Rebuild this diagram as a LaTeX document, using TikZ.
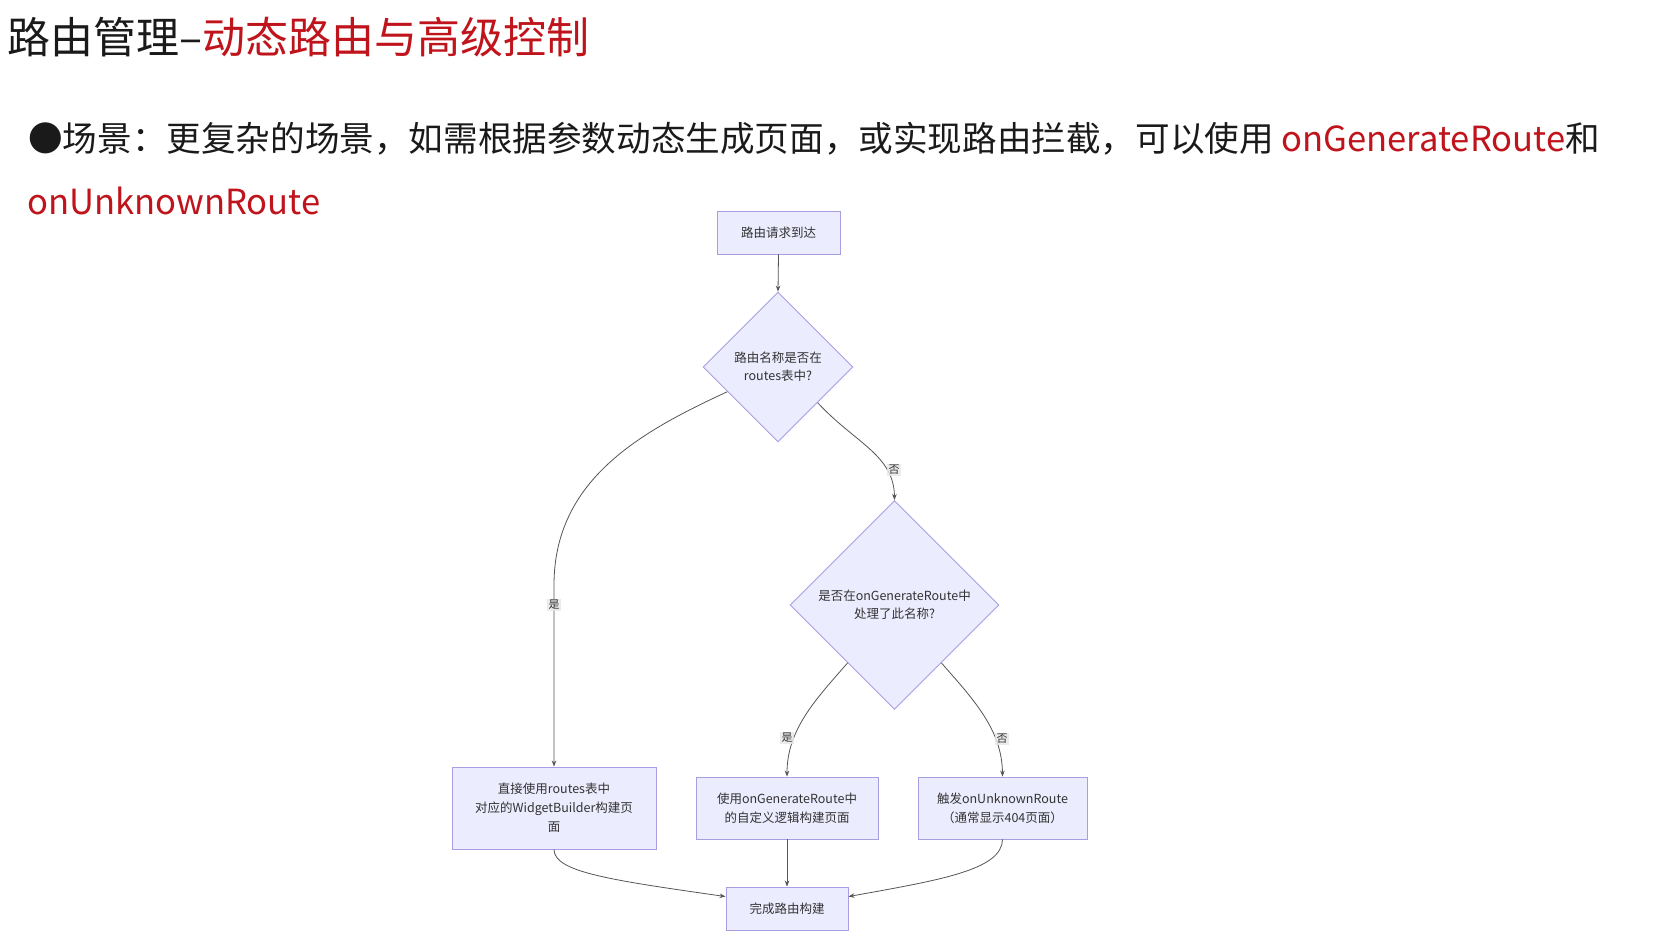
\documentclass[tikz,border=0pt]{standalone}
\usepackage{fontspec}
\setmainfont{Noto Sans CJK SC}
\usetikzlibrary{shapes.geometric,arrows.meta}
\definecolor{nodefill}{HTML}{ECECFF}
\definecolor{nodedraw}{HTML}{A99EE2}
\definecolor{redtxt}{HTML}{C0141C}
\definecolor{txt}{HTML}{333333}
\definecolor{titletxt}{HTML}{1A1A1A}
\definecolor{linec}{HTML}{555555}
\definecolor{lblfill}{HTML}{E8E8E8}
\begin{document}
\begin{tikzpicture}[x=1pt,y=-1pt,
  box/.style={draw=nodedraw,fill=nodefill,line width=0.9pt,text=txt,font=\fontsize{12.5}{19}\selectfont,align=center,inner sep=0pt},
  dia/.style={diamond,aspect=1,draw=nodedraw,fill=nodefill,line width=0.9pt,text=txt,font=\fontsize{12.5}{18}\selectfont,align=center,inner sep=0pt},
  conn/.style={draw=linec,line width=0.8pt,-{Stealth[length=6pt,width=4.5pt]}},
  lbl/.style={fill=lblfill,fill opacity=0.85,text opacity=1,text=txt,font=\fontsize{11}{11}\selectfont,inner sep=1.2pt}]
\useasboundingbox (0,0) rectangle (1659,940);
\fill[white] (0,0) rectangle (1659,940);
% header texts
\node[anchor=west,inner sep=0pt,text=titletxt,font=\fontsize{43}{43}\selectfont] (title) at (7,37) {路由管理–\textcolor{redtxt}{动态路由与高级控制}};
\node[anchor=west,inner sep=0pt,text=titletxt,font=\fontsize{34.6}{34.6}\selectfont] (line1) at (28,139) {●场景：更复杂的场景，如需根据参数动态生成页面，或实现路由拦截，可以使用 \textcolor{redtxt}{onGenerateRoute}和};
\node[anchor=west,inner sep=0pt,text=redtxt,font=\fontsize{34.6}{34.6}\selectfont] (line2) at (27,201) {onUnknownRoute};
% nodes
\node[box,minimum width=123,minimum height=43] (start) at (778.5,232.5) {路由请求到达};
\node[dia,minimum width=150,minimum height=150] (d1) at (778,367) {路由名称是否在\\routes表中?};
\node[dia,minimum width=209,minimum height=209] (d2) at (894.5,605) {是否在onGenerateRoute中\\处理了此名称?};
\node[box,minimum width=204,minimum height=82] (b1) at (554,808) {直接使用routes表中\\对应的WidgetBuilder构建页\\面};
\node[box,minimum width=182,minimum height=62] (b2) at (787,808) {使用onGenerateRoute中\\的自定义逻辑构建页面};
\node[box,minimum width=169,minimum height=62] (b3) at (1002.5,808) {触发onUnknownRoute\\（通常显示404页面）};
\node[box,minimum width=122,minimum height=43] (end) at (787,908.5) {完成路由构建};
\coordinate (k1) at (554,585);
% connectors
\draw[conn] (start.south) -- (d1.north);
\draw[conn] (d1.206) .. controls (640,432) and (554,480) .. (k1) -- (b1.north);
\draw[conn] (d1.318) .. controls (855,443) and (894,455) .. (d2.north);
\draw[conn] (d2.231) .. controls (815,700) and (787,730) .. (b2.north);
\draw[conn] (d2.309) .. controls (974,700) and (1002,730) .. (b3.north);
\draw[conn] (b1.south) .. controls (554,872) and (610,880) .. (end.169);
\draw[conn] (b2.south) -- (end.north);
\draw[conn] (b3.south) .. controls (1002,870) and (940,880) .. (end.11);
% edge labels
\node[lbl] (l1) at (554,605) {是};
\node[lbl] (l2) at (894,470) {否};
\node[lbl] (l3) at (787,738) {是};
\node[lbl] (l4) at (1002,739) {否};
\end{tikzpicture}
\end{document}
